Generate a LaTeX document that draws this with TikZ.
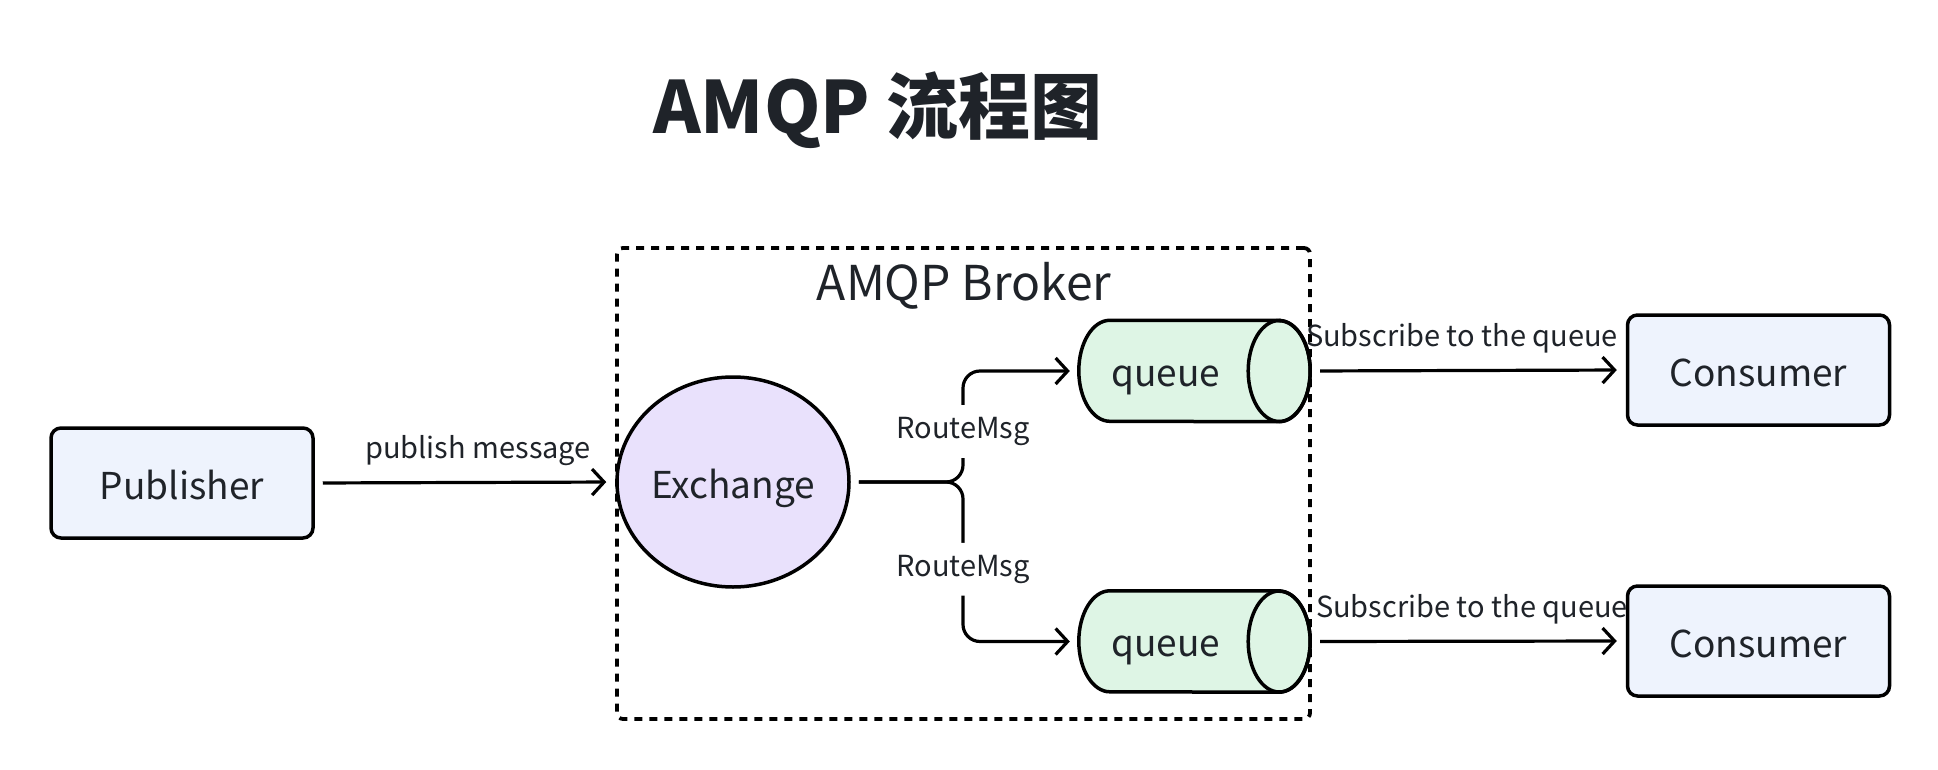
\documentclass[tikz,border=0pt]{standalone}
\usepackage{fontspec}
\setmainfont{Noto Sans CJK SC}
\usetikzlibrary{arrows.meta,shapes.geometric}
\definecolor{ink}{HTML}{1F2329}
\definecolor{boxfill}{HTML}{EEF3FD}
\definecolor{exfill}{HTML}{E9E1FC}
\definecolor{qfill}{HTML}{DEF5E5}
\tikzset{
  base/.style={line width=3.5pt, draw=black, text=ink},
  actor/.style={base, rectangle, rounded corners=10pt, fill=boxfill, minimum width=262pt, minimum height=110pt, font=\fontsize{37}{44}\selectfont},
  exch/.style={base, ellipse, fill=exfill, minimum width=232pt, minimum height=210pt, inner sep=0pt, font=\fontsize{37}{44}\selectfont},
  cylbox/.style={rectangle, draw=none, minimum width=231pt, minimum height=101pt, inner sep=0pt},
  cyldraw/.style={line width=3.5pt, draw=black, fill=qfill},
  qtext/.style={text=ink, anchor=base, inner sep=0pt, font=\fontsize{37}{44}\selectfont},
  elabel/.style={text=ink, anchor=base, inner sep=0pt, font=\fontsize{29}{34}\selectfont},
  rlabel/.style={text=ink, anchor=base, fill=white, inner xsep=2pt, inner ysep=12pt, font=\fontsize{29}{34}\selectfont},
  arr/.style={line width=3.2pt, draw=black, -{Straight Barb[length=12pt, width=26pt]}, shorten <=8pt, shorten >=9pt},
  brokerbox/.style={draw=black, line width=3.8pt, dash pattern=on 8pt off 7pt, rounded corners=6pt, rectangle, minimum width=693pt, minimum height=471pt, inner sep=0pt},
}
\begin{document}
\begin{tikzpicture}[x=1pt,y=-1pt]
\useasboundingbox[fill=white] (0,0) rectangle (1938,770);

% title
\node[text=ink, anchor=base, inner sep=0pt, font=\fontsize{72}{80}\selectfont\bfseries] (title) at (878,134) {AMQP 流程图};

% broker container
\node[brokerbox] (broker) at (963.5,483.5) {};
\node[text=ink, anchor=base, inner sep=0pt, font=\fontsize{48}{56}\selectfont] (brokerlbl) at (964,300) {AMQP Broker};

% nodes
\node[actor] (pub) at (182,483) {};
\node[qtext] (pubt) at (182,499) {Publisher};
\node[exch] (ex) at (733,482) {};
\node[qtext] (ext) at (733,498) {Exchange};

\node[cylbox] (q1) at (1194.5,371) {};
\node[cylbox] (q2) at (1194.5,641.5) {};
\foreach \q in {q1,q2}{
  \filldraw[cyldraw] ([xshift=-31pt]\q.north east) -- ([xshift=31pt]\q.north west)
    arc[start angle=90, end angle=270, x radius=31pt, y radius=50.5pt]
    -- ([xshift=-31pt]\q.south east)
    arc[start angle=-90, end angle=90, x radius=31pt, y radius=50.5pt] -- cycle;
  \draw[line width=3.5pt] ([xshift=-31pt]\q.east) ellipse[x radius=31pt, y radius=50.5pt];
}
\node[qtext] (q1t) at (1166,386) {queue};
\node[qtext] (q2t) at (1166,656) {queue};

\node[actor] (c1) at (1758.5,370) {};
\node[qtext] (c1t) at (1758.5,386) {Consumer};
\node[actor] (c2) at (1758.5,641) {};
\node[qtext] (c2t) at (1758.5,657) {Consumer};

% connectors
\draw[arr] (pub.east) -- (ex.west)
  node[elabel, pos=0.5, xshift=13pt, yshift=24pt] (pm) {publish message};

\coordinate (junc) at (963,482);
\draw[arr, rounded corners=17pt] (ex.east) -- (junc) |- (q1.west)
  node[rlabel, pos=0.25, yshift=-12pt] (r1) {RouteMsg};
\draw[arr, rounded corners=17pt] (ex.east) -- (junc) |- (q2.west)
  node[rlabel, pos=0.25, yshift=-14.5pt] (r2) {RouteMsg};

\draw[arr, shorten <=10pt] (q1.east) -- (c1.west)
  node[elabel, pos=0.5, xshift=-6pt, yshift=24pt] (s1) {Subscribe to the queue};
\draw[arr, shorten <=10pt] (q2.east) -- (c2.west)
  node[elabel, pos=0.5, xshift=4pt, yshift=24pt] (s2) {Subscribe to the queue};
\end{tikzpicture}
\end{document}
